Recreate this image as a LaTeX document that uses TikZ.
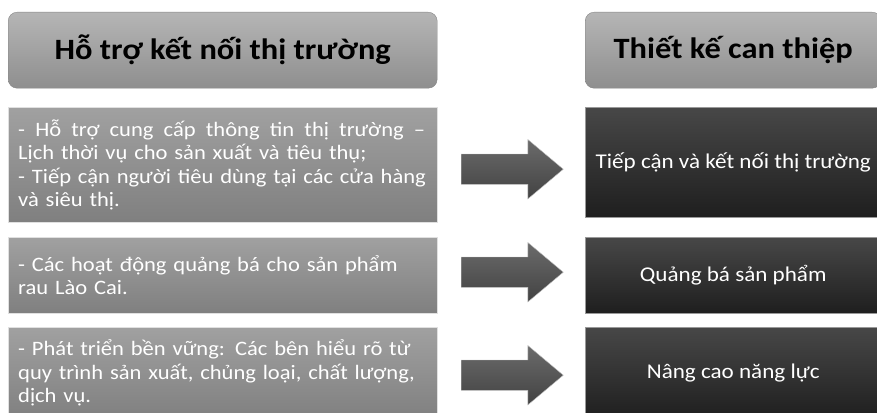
\documentclass[tikz,border=0pt]{standalone}
\usepackage{fontspec}
\setmainfont{Carlito}[FakeStretch=1.1]
\usetikzlibrary{shapes.arrows,calc}

\begin{document}
\begin{tikzpicture}[
    x=1pt, y=-1pt,
    head/.style={draw=black!48, rounded corners=9pt, top color=black!29, bottom color=black!44,
        minimum height=76pt, anchor=north west, font=\fontsize{29.5}{33}\selectfont\bfseries},
    info/.style={draw=black!12, top color=black!37, bottom color=black!50, text=white,
        anchor=north west, inner xsep=10pt, text width=409pt, align=left,
        font=\fontsize{20.5}{23.5}\selectfont},
    goal/.style={draw=black!40, top color=black!72, bottom color=black!88, text=white,
        anchor=north west, minimum width=296pt, font=\fontsize{21}{25}\selectfont},
    blockarrow/.style={single arrow, draw=black!25, top color=black!58, bottom color=black!74,
        minimum height=102pt, inner xsep=0pt, inner ysep=15pt, single arrow head extend=14.5pt,
        single arrow tip angle=80},
]
\useasboundingbox (0,0) rectangle (877,412);

% headers
\node[head, minimum width=429pt] (hl) at (8,12) {Hỗ trợ kết nối thị trường};
\node[head, minimum width=296pt] (hr) at (585,12) {Thiết kế can thiệp};

% left: activities
\node[info, minimum height=115pt] (l1) at (8,107)
    {\makebox[407pt][s]{\spaceskip=.25em plus 1fil - Hỗ trợ cung cấp thông tin thị trường –}\\
     Lịch thời vụ cho sản xuất và tiêu thụ;\\
     - Tiếp cận người tiêu dùng tại các cửa hàng\\
     và siêu thị.};
\node[info, minimum height=76pt] (l2) at (8,237)
    {- Các hoạt động quảng bá cho sản phẩm\\ rau Lào Cai.};
\node[info, minimum height=92pt] (l3) at (8,327)
    {- Phát triển bền vững: Các bên hiểu rõ từ\\
     quy trình sản xuất, chủng loại, chất lượng,\\
     dịch vụ.};

% right: interventions
\node[goal, minimum height=110pt] (r1) at (585,107) {Tiếp cận và kết nối thị trường};
\node[goal, minimum height=76pt] (r2) at (585,237) {Quảng bá sản phẩm};
\node[goal, minimum height=92pt] (r3) at (585,327) {Nâng cao năng lực};

% block arrows
\foreach \i/\dy in {1/-5.75,2/3,3/-2}{
    \node[blockarrow, xshift=-8pt, yshift=\dy pt] (a\i) at ($(l\i.east)!0.5!(r\i.west)$) {};
}

\end{tikzpicture}
\end{document}
